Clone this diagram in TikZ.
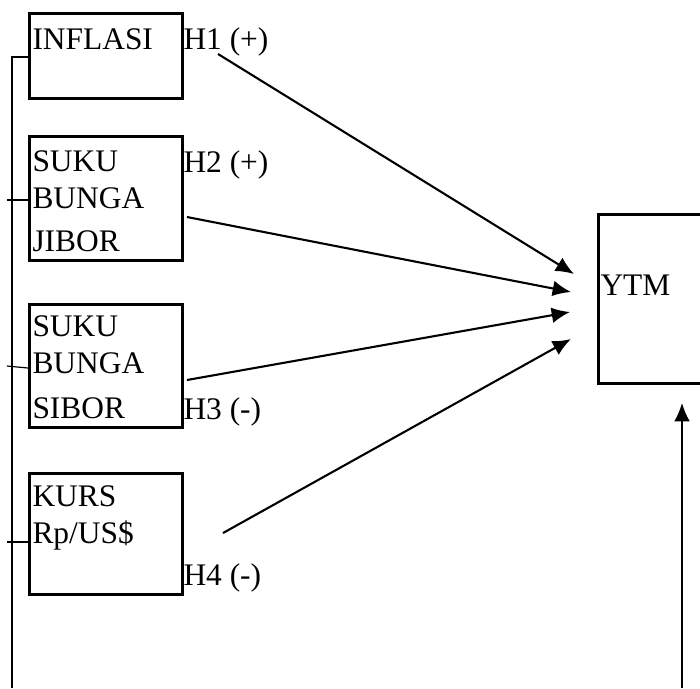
\documentclass[tikz,border=0pt]{standalone}
\usepackage{fontspec}
\setmainfont{Liberation Serif}
\usetikzlibrary{arrows.meta}
\begin{document}
\begin{tikzpicture}[x=0.382pt,y=-0.382pt,
    box/.style={draw,line width=1.05pt,anchor=north west,inner sep=0pt,minimum width=58.4pt},
    txt/.style={anchor=north west,inner sep=0pt,align=left,font=\fontsize{12}{14.1}\selectfont},
    arr/.style={line width=0.8pt,-{Latex[length=7pt,width=6pt]}},
    link/.style={line width=0.45pt}]
  \useasboundingbox (0,0) rectangle (700,688);
  \clip (0,0) rectangle (700,688);
  \node[box,minimum height=32.5pt] (inf) at (28,12) {};
  \node[box,minimum height=47.4pt] (jib) at (28,135) {};
  \node[box,minimum height=47pt] (sib) at (28,303) {};
  \node[box,minimum height=46.2pt] (kurs) at (28,472) {};
  \node[box,minimum width=48pt,minimum height=64.6pt] (ytm) at (597,213) {};
  \node[txt] (inftxt) at (32,28) {INFLASI};
  \node[txt] (jibtxt) at (32,150) {SUKU\\BUNGA\\[2.5pt]JIBOR};
  \node[txt] (sibtxt) at (32,315) {SUKU\\BUNGA\\[3pt]SIBOR};
  \node[txt] (kurstxt) at (32,485) {KURS\\Rp/US\$};
  \node[txt] (ytmtxt) at (600,274) {YTM};
  \node[txt] (h1) at (183,27) {H1 (+)};
  \node[txt] (h2) at (183,150) {H2 (+)};
  \node[txt] (h3) at (183,397) {H3 (-)};
  \node[txt] (h4) at (183,563) {H4 (-)};
  \coordinate (h1s) at (218,54);  \coordinate (h1e) at (574,274);
  \coordinate (h2s) at (187,217); \coordinate (h2e) at (571,292);
  \coordinate (h3s) at (187,380); \coordinate (h3e) at (570,312);
  \coordinate (h4s) at (223,533); \coordinate (h4e) at (571,339);
  \coordinate (bot) at (682,688); \coordinate (ytmin) at (682,403);
  \draw[arr] (h1s) -- (h1e);
  \draw[arr] (h2s) -- (h2e);
  \draw[arr] (h3s) -- (h3e);
  \draw[arr] (h4s) -- (h4e);
  \draw[arr,line width=0.6pt] (bot) -- (ytmin);
  \draw[link] (12,688) -- (12,57) -- (inf.west |- 0,57);
  \draw[link] (7,200) -- (jib.west |- 0,200);
  \draw[link] (7,366) -- (sib.west |- 0,368);
  \draw[link] (7,542) -- (kurs.west |- 0,542);
\end{tikzpicture}
\end{document}
